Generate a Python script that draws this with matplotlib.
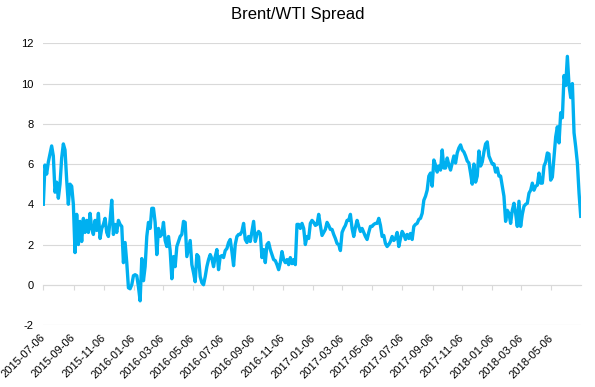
import pandas as pd
import matplotlib
matplotlib.use('Agg')
import matplotlib.pyplot as plt
import matplotlib.dates as mdates
from matplotlib.ticker import NullFormatter

title = 'Brent/WTI Spread'
start_date = '2015-07-06'
end_date = '2018-07-05'
y_ticks = [-2, 0, 2, 4, 6, 8, 10, 12]

# Brent minus WTI at evenly spaced dates
spread = [
    4.0, 5.95, 5.5, 6.1, 6.5, 6.9, 6.4, 4.6, 5.1, 4.3, 5.0, 6.3, 7.0, 6.7, 5.2, 4.0,
    5.0, 4.9, 4.0, 1.6, 3.5, 2.0, 3.15, 2.15, 3.3, 2.6, 3.2, 2.6, 3.55, 2.8, 2.5, 3.2,
    2.7, 3.55, 2.3, 2.8, 3.0, 3.3, 2.6, 2.4, 3.2, 4.2, 2.5, 3.0, 2.6, 3.2, 3.0, 2.9,
    1.1, 2.1, 1.1, -0.15, -0.2, 0.0, 0.45, 0.5, 0.45, -0.1, -0.8, 1.3, 0.2, 0.9,
    2.4, 3.1, 2.8, 3.8, 3.8, 3.1, 1.5, 2.8, 2.4, 2.5, 3.1, 2.2, 1.9, 2.4, 1.7, 0.3,
    1.4, 0.9, 1.9, 2.15, 2.4, 2.5, 3.15, 3.1, 1.4, 1.8, 2.2, 1.0, 0.6, 0.15, 1.5, 1.4,
    0.4, 0.1, 0.0, 0.4, 0.9, 1.25, 1.5, 1.3, 0.9, 1.4, 1.75, 0.75, 1.4, 1.45, 1.35, 1.7,
    1.8, 2.1, 2.25, 1.65, 0.95, 2.0, 2.4, 2.5, 2.5, 2.65, 3.05, 2.25, 2.1, 2.4, 2.15, 2.65,
    3.15, 2.15, 2.5, 2.65, 2.55, 1.35, 1.75, 1.1, 2.0, 2.1, 1.75, 1.5, 1.25, 1.2, 1.0, 0.75,
    1.1, 1.65, 1.25, 1.1, 1.25, 1.0, 1.35, 1.05, 1.25, 1.0, 3.0, 3.0, 2.8, 3.05, 2.8, 2.0,
    2.4, 2.3, 3.05, 3.2, 3.1, 2.95, 3.0, 3.5, 2.95, 2.45, 2.6, 2.75, 3.1, 2.95, 2.75, 2.75,
    2.5, 2.3, 2.05, 2.0, 1.7, 2.6, 2.8, 2.95, 3.2, 3.2, 3.5, 2.8, 2.4, 2.85, 3.2, 2.9,
    2.65, 2.8, 2.6, 2.4, 2.25, 2.6, 2.9, 2.9, 3.0, 3.05, 3.05, 3.3, 2.95, 2.4, 2.45, 2.05,
    1.9, 2.0, 2.15, 2.4, 2.2, 2.3, 2.6, 1.9, 2.3, 2.65, 2.5, 2.25, 2.5, 2.3, 2.55, 2.25,
    2.9, 3.0, 3.05, 3.25, 3.3, 3.55, 4.2, 4.4, 4.7, 5.4, 5.55, 4.9, 6.2, 5.95, 5.6, 5.9,
    5.7, 6.7, 5.8, 5.8, 6.3, 5.95, 5.7, 6.05, 6.4, 6.05, 6.55, 6.8, 6.95, 6.7, 6.6, 6.4,
    6.15, 6.05, 5.55, 5.0, 6.0, 5.1, 5.4, 6.65, 5.9, 6.1, 6.6, 7.0, 7.1, 6.4, 6.2, 6.0,
    6.0, 5.6, 5.8, 5.4, 5.4, 4.9, 4.4, 3.15, 3.7, 3.55, 3.05, 3.7, 4.05, 3.55, 2.9, 4.15,
    2.9, 3.5, 3.9, 4.0, 4.05, 4.55, 4.7, 5.05, 4.7, 4.9, 4.95, 5.55, 5.05, 5.05, 5.9, 6.1,
    6.55, 6.5, 5.2, 5.35, 6.35, 7.35, 7.85, 7.05, 8.55, 8.3, 10.4, 9.9, 11.35, 9.9, 9.3, 10.0,
    7.55, 6.85, 6.05, 4.55, 3.4,
]


def main():
    plt.rcParams['font.family'] = ['Liberation Sans', 'DejaVu Sans']
    plt.rcParams['axes.unicode_minus'] = False

    dates = pd.date_range(start_date, end_date, periods=len(spread))

    fig = plt.figure(figsize=(5.95, 3.87), dpi=100)
    ax = fig.add_axes([0.0728, 0.1602, 0.9032, 0.7279])

    ax.plot(dates, spread, color='#00B0F0', lw=2.4, solid_joinstyle='round')

    ax.set_ylim(-2, 12)
    ax.set_yticks(y_ticks)
    ax.set_xlim(dates[0], dates[-1])
    ax.yaxis.grid(True, color='#D9D9D9', lw=0.8)
    ax.set_axisbelow(True)
    for side in ['top', 'right', 'bottom', 'left']:
        ax.spines[side].set_visible(False)

    ax.xaxis.set_major_locator(mdates.MonthLocator(bymonth=[1, 3, 5, 7, 9, 11], bymonthday=6))
    ax.xaxis.set_major_formatter(mdates.DateFormatter('%Y-%m-%d'))
    ax.tick_params(axis='x', length=0, pad=8, labelsize=8)
    ax.tick_params(axis='y', length=0, pad=7, labelsize=8)
    plt.setp(ax.get_xticklabels(), rotation=45, ha='right', va='center',
             rotation_mode='anchor')

    # horizontal axis line with tick marks sits at zero
    sec = ax.secondary_xaxis(2 / 14)
    sec.xaxis.set_major_locator(mdates.MonthLocator(bymonth=[1, 3, 5, 7, 9, 11], bymonthday=6))
    sec.xaxis.set_major_formatter(NullFormatter())
    sec.spines['bottom'].set_color('#D9D9D9')
    sec.tick_params(axis='x', length=3.5, width=0.8, color='#D9D9D9')

    fig.text(0.5, 0.962, title, ha='center', va='center', fontsize=12)

    fig.savefig('out.png', dpi=100)


main()
